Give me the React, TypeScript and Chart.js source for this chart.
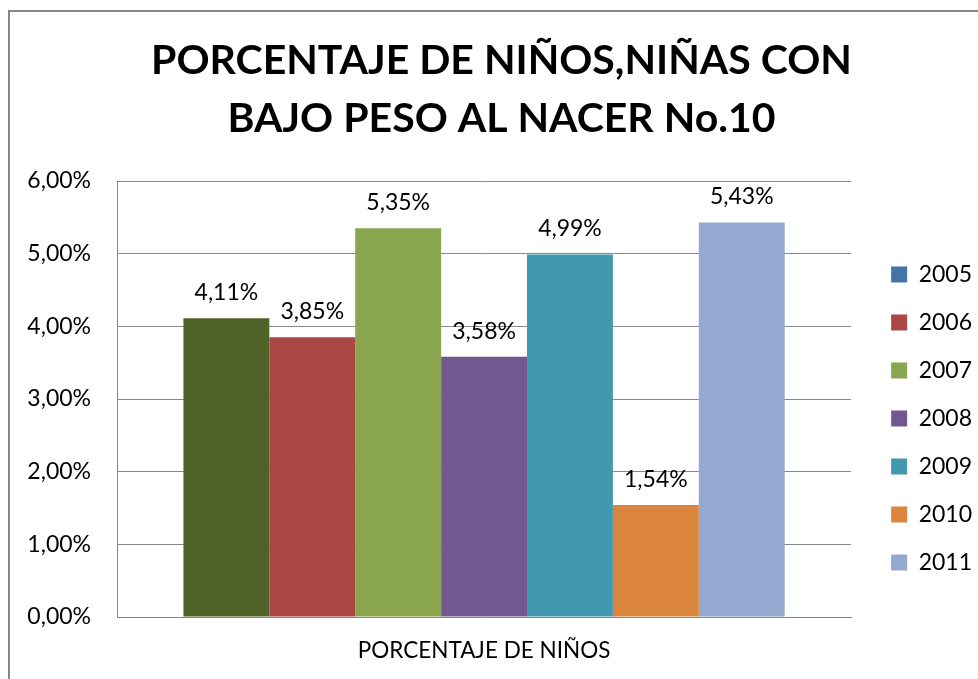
import React, { useEffect, useRef } from "react";
import { Chart, registerables } from "chart.js";

Chart.register(...registerables);

const titleLines = ["PORCENTAJE DE NIÑOS,NIÑAS CON", "BAJO PESO AL NACER No.10"];
const categories = ["PORCENTAJE DE NIÑOS"];
const years = ["2005", "2006", "2007", "2008", "2009", "2010", "2011"];
const values = [4.11, 3.85, 5.35, 3.58, 4.99, 1.54, 5.43];
const barColors = ["#4F6228", "#AA4643", "#89A54E", "#71588F", "#4198AF", "#DB843D", "#93A9CF"];
const legendColors = ["#4572A7", "#AA4643", "#89A54E", "#71588F", "#4198AF", "#DB843D", "#93A9CF"];
const yMin = 0;
const yMax = 6;
const yStep = 1;

const FONT = "Lato, 'Liberation Sans', sans-serif";

const fmt = (v: number) => v.toFixed(2).replace(".", ",") + "%";

const framePlugin = {
  id: "frame",
  beforeDraw(chart: any) {
    const { ctx, width, height } = chart;
    ctx.save();
    ctx.fillStyle = "#FFFFFF";
    ctx.fillRect(0, 0, width, height);
    ctx.strokeStyle = "#868686";
    ctx.lineWidth = 2;
    ctx.strokeRect(9, 11, width + 20, height + 20);
    ctx.restore();
  },
};

const labelPlugin = {
  id: "barLabels",
  afterDatasetsDraw(chart: any) {
    const { ctx } = chart;
    ctx.save();
    ctx.font = `23px ${FONT}`;
    ctx.fillStyle = "#000000";
    ctx.textAlign = "center";
    ctx.textBaseline = "alphabetic";
    chart.data.datasets.forEach((ds: any, i: number) => {
      const meta = chart.getDatasetMeta(i);
      meta.data.forEach((bar: any, j: number) => {
        const v = ds.data[j];
        ctx.fillText(fmt(v), bar.x, bar.y - 18);
      });
    });
    ctx.restore();
  },
};

export default function App() {
  const ref = useRef<HTMLCanvasElement | null>(null);

  useEffect(() => {
    if (!ref.current) return;
    const chart = new Chart(ref.current, {
      type: "bar",
      data: {
        labels: categories,
        datasets: years.map((y, i) => ({
          label: y,
          data: [values[i]],
          backgroundColor: barColors[i],
          borderWidth: 0,
          barPercentage: 1,
          categoryPercentage: 0.819,
        })),
      },
      options: {
        responsive: false,
        animation: false,
        layout: { padding: { left: 21, right: -4, top: 0, bottom: 0 } },
        plugins: {
          tooltip: { enabled: false },
          title: {
            display: true,
            text: titleLines,
            color: "#000000",
            font: { family: FONT, size: 41, weight: "bold", lineHeight: 58 / 41 },
            padding: { top: 32, bottom: 33 },
          },
          legend: {
            display: true,
            position: "right",
            title: {
              display: true,
              text: " ",
              font: { family: FONT, size: 10, lineHeight: 1 },
              padding: { top: 148, bottom: 0 },
            },
            labels: {
              boxWidth: 16,
              boxHeight: 16,
              padding: 25,
              color: "#000000",
              font: { family: FONT, size: 23 },
              generateLabels: () =>
                years.map((y, i) => ({
                  text: y,
                  fillStyle: legendColors[i],
                  strokeStyle: legendColors[i],
                  fontColor: "#000000",
                  lineWidth: 0,
                  hidden: false,
                  datasetIndex: i,
                })),
            },
          },
        },
        scales: {
          x: {
            afterFit: (scale: any) => {
              scale.height = 62;
            },
            grid: { display: false, drawTicks: false },
            border: { display: true, color: "#868686", width: 1 },
            ticks: { color: "#000000", font: { family: FONT, size: 22.5 }, padding: 20 },
          },
          y: {
            min: yMin,
            max: yMax,
            afterFit: (scale: any) => {
              scale.width = 96;
            },
            grid: { color: "#8A8A8A", lineWidth: 1, drawTicks: false },
            border: { display: true, color: "#868686", width: 1 },
            ticks: {
              stepSize: yStep,
              padding: 26,
              color: "#000000",
              font: { family: FONT, size: 23 },
              callback: (v: any) => fmt(Number(v)),
            },
          },
          yGap: {
            position: "right",
            display: true,
            afterFit: (scale: any) => {
              scale.width = 15;
            },
            grid: { display: false, drawTicks: false },
            border: { display: false },
            ticks: { display: false },
          },
        },
      },
      plugins: [framePlugin, labelPlugin],
    });
    return () => chart.destroy();
  }, []);

  return (
    <div style={{ position: "fixed", left: 0, top: 0, width: 978, height: 679 }}>
      <canvas ref={ref} width={978} height={679} style={{ display: "block" }} />
    </div>
  );
}
